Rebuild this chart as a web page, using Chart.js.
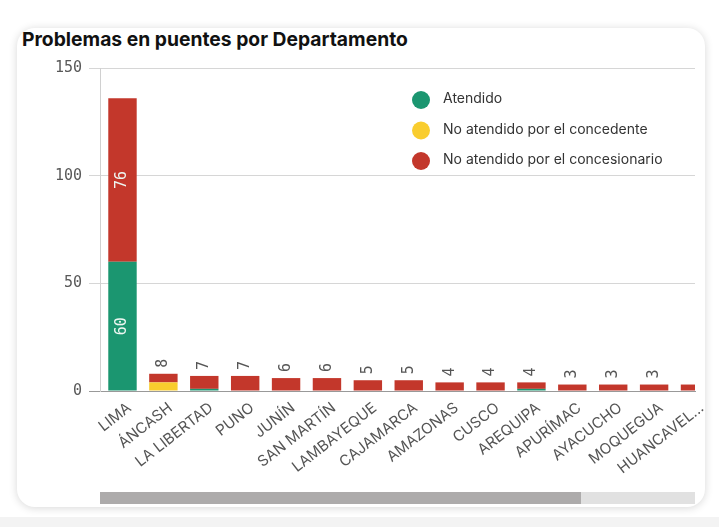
<!DOCTYPE html>
<html>
<head>
<meta charset="utf-8">
<script src="https://cdn.jsdelivr.net/npm/chart.js@4"></script>
<style>
  html, body { margin: 0; padding: 0; }
  body { width: 719px; height: 527px; background: #ffffff; position: relative; overflow: hidden; font-family: Inter, "Noto Sans", sans-serif; }
  #strip { position: absolute; left: 0; top: 517px; width: 719px; height: 10px; background: #f3f3f3; }
  #card { position: absolute; left: 17px; top: 28px; width: 688px; height: 479px; background: #fff; border-radius: 18px; box-shadow: 0 1px 8px rgba(0,0,0,0.16); }
  #title { position: absolute; left: 22px; top: 28px; font: 700 19.3px Inter, sans-serif; color: #111; white-space: nowrap; line-height: 23px; }
  #wrap { position: absolute; left: 17px; top: 50px; width: 688px; height: 435px; }
  #track { position: absolute; left: 100px; top: 492px; width: 595px; height: 12px; background: #e1e1e1; }
  #thumb { position: absolute; left: 100px; top: 492px; width: 481px; height: 12px; background: #adabab; }
</style>
</head>
<body>
<div id="strip"></div>
<div id="card"></div>
<div id="title">Problemas en puentes por Departamento</div>
<div id="wrap"><canvas id="c" width="688" height="435"></canvas></div>
<div id="track"></div>
<div id="thumb"></div>
<script>
const categories = ['LIMA','ÁNCASH','LA LIBERTAD','PUNO','JUNÍN','SAN MARTÍN','LAMBAYEQUE','CAJAMARCA','AMAZONAS','CUSCO','AREQUIPA','APURÍMAC','AYACUCHO','MOQUEGUA','HUANCAVELICA'];
const atendido          = [60, 0, 1, 0, 0, 0, 0, 0, 0, 0, 1, 0, 0, 0, 0];
const noAtConcedente    = [ 0, 4, 0, 0, 0, 0, 0, 0, 0, 0, 0, 0, 0, 0, 0];
const noAtConcesionario = [76, 4, 6, 7, 6, 6, 5, 5, 4, 4, 3, 3, 3, 3, 3];
const seriesNames = ['Atendido', 'No atendido por el concedente', 'No atendido por el concesionario'];
const yTicks = [0, 50, 100, 150];

const colors = ['#1b9670', '#f9cd2e', '#c3372b'];
const allSeries = [atendido, noAtConcedente, noAtConcesionario];

const toPoints = arr => arr.map((v, i) => ({ x: i, y: v }));

const valueLabels = {
  id: 'valueLabels',
  afterDatasetsDraw(chart) {
    const ctx = chart.ctx;
    const area = chart.chartArea;
    ctx.save();
    ctx.font = '15px "DejaVu Sans Mono", monospace';
    ctx.textBaseline = 'middle';
    categories.forEach((c, i) => {
      const segs = [];
      chart.data.datasets.forEach((ds, d) => {
        const v = ds.data[i].y;
        if (v > 0) {
          const el = chart.getDatasetMeta(d).data[i];
          segs.push({ v, el });
        }
      });
      if (!segs.length) return;
      const x = segs[0].el.x;
      if (x > area.right - 4) return;
      const inside = segs.every(s => Math.abs(s.el.base - s.el.y) >= 30);
      if (inside) {
        segs.forEach(s => {
          const cy = (s.el.base + s.el.y) / 2;
          ctx.save();
          ctx.translate(x, cy);
          ctx.rotate(-Math.PI / 2);
          ctx.textAlign = 'center';
          ctx.fillStyle = '#eef7f2';
          ctx.fillText(String(s.v), 0, 0);
          ctx.restore();
        });
      } else {
        const total = segs.reduce((a, s) => a + s.v, 0);
        const top = Math.min(...segs.map(s => s.el.y));
        ctx.save();
        ctx.translate(x, top - 6);
        ctx.rotate(-Math.PI / 2);
        ctx.textAlign = 'left';
        ctx.fillStyle = '#555';
        ctx.fillText(String(total), 0, 0);
        ctx.restore();
      }
    });
    ctx.restore();
  }
};

const insideLegend = {
  id: 'insideLegend',
  afterDraw(chart) {
    const ctx = chart.ctx;
    const area = chart.chartArea;
    ctx.save();
    ctx.font = '14px Inter, sans-serif';
    ctx.textBaseline = 'middle';
    ctx.textAlign = 'left';
    chart.data.datasets.forEach((ds, k) => {
      const cx = area.left + 321;
      const cy = area.top + 32 + k * 30.5;
      ctx.beginPath();
      ctx.arc(cx, cy, 9, 0, Math.PI * 2);
      ctx.fillStyle = ds.backgroundColor;
      ctx.fill();
      ctx.fillStyle = '#333';
      ctx.fillText(ds.label, cx + 22, cy - 1);
    });
    ctx.restore();
  }
};

new Chart(document.getElementById('c'), {
  type: 'bar',
  data: {
    datasets: allSeries.map((arr, k) => ({
      label: seriesNames[k],
      data: toPoints(arr),
      backgroundColor: colors[k],
      borderWidth: 0,
      categoryPercentage: 1,
      barPercentage: 0.695
    }))
  },
  options: {
    responsive: false,
    animation: false,
    layout: { padding: { top: 18, right: 10, left: 0, bottom: 0 } },
    plugins: { legend: { display: false }, tooltip: { enabled: false } },
    scales: {
      x: {
        type: 'linear',
        stacked: true,
        offset: false,
        min: -0.55,
        max: 14,
        afterBuildTicks: s => { s.ticks = categories.map((c, i) => ({ value: i })); },
        afterFit: s => { s.height = 94; s.paddingRight = 0; s.paddingLeft = 0; },
        grid: { display: false, drawTicks: false },
        border: { display: true, color: '#999' },
        ticks: {
          autoSkip: false,
          minRotation: 38,
          maxRotation: 38,
          padding: 8,
          labelOffset: 7,
          color: '#555',
          font: { family: 'Inter, sans-serif', size: 15 },
          callback: v => {
            const l = categories[Math.round(v)] || '';
            return l.length > 11 ? l.slice(0, 9) + '...' : l;
          }
        }
      },
      y: {
        stacked: true,
        min: 0,
        max: 150,
        afterBuildTicks: s => { s.ticks = yTicks.map(v => ({ value: v })); },
        afterFit: s => { s.width = 83; },
        grid: {
          color: ctx => ctx.tick && ctx.tick.value === 0 ? '#999' : '#d6d6d6',
          tickLength: 11,
          drawTicks: true
        },
        border: { display: true, color: '#d0d0d0' },
        ticks: {
          padding: 7,
          color: '#595959',
          font: { family: '"DejaVu Sans Mono", monospace', size: 15 }
        }
      }
    }
  },
  plugins: [valueLabels, insideLegend]
});
</script>
</body>
</html>
